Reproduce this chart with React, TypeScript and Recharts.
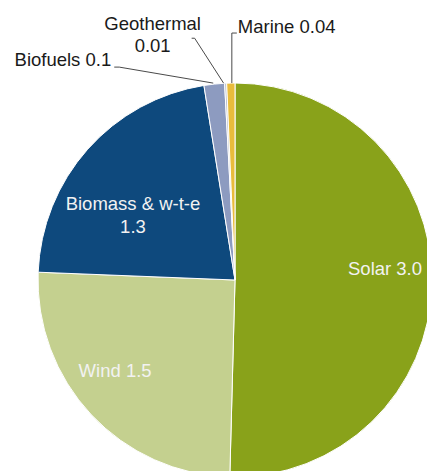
import React from "react";
import { Cell, Pie, PieChart } from "recharts";

const categories = ["Solar", "Wind", "Biomass & w-t-e", "Biofuels", "Geothermal", "Marine"];
const values = [3.0, 1.5, 1.3, 0.1, 0.01, 0.04];
const valueLabels = ["3.0", "1.5", "1.3", "0.1", "0.01", "0.04"];

const colors = ["#89A21A", "#C4D08F", "#0E497D", "#8D9BC0", "#B4BCCB", "#E9BC3C"];

const data = categories.map((name, i) => ({ name, value: values[i] }));

const FONT = "'Liberation Sans', Arial, sans-serif";
const RAD = Math.PI / 180;

// inside labels: radius factor + angle nudge off the slice mid angle
const insidePos = [
  { rf: 0.764, da: 5.3 },
  { rf: 0.761, da: -6.2 },
  { rf: 0.614, da: 9.1 },
];

function renderLabel(props: any) {
  const { cx, cy, midAngle, outerRadius, index } = props;
  const name = categories[index];
  const val = valueLabels[index];

  if (index < 3) {
    const p = insidePos[index];
    const a = (midAngle + p.da) * RAD;
    const r = outerRadius * p.rf;
    const x = cx + r * Math.cos(a);
    const y = cy - r * Math.sin(a);
    const common = { fill: "#F2F2F2", fontSize: 18.5, fontFamily: FONT, textAnchor: "middle" as const };
    if (index === 2) {
      return (
        <g key={`lbl-${index}`}>
          <text x={x} y={y - 5} {...common}>{name}</text>
          <text x={x} y={y + 18} {...common}>{val}</text>
        </g>
      );
    }
    return (
      <text key={`lbl-${index}`} x={x} y={y + 7} {...common}>
        {`${name} ${val}`}
      </text>
    );
  }

  // outside labels with leader lines from the rim
  const a = midAngle * RAD;
  const ex = cx + outerRadius * Math.cos(a);
  const ey = cy - outerRadius * Math.sin(a);
  const line = { stroke: "#4A4A4A", strokeWidth: 1, fill: "none" };
  const txt = { fill: "#1A1A1A", fontSize: 18.5, fontFamily: FONT };

  if (index === 3) {
    return (
      <g key={`lbl-${index}`}>
        <path d={`M${ex - 1},${ey - 1} L${ex - 95},${ey - 17} L${ex - 100},${ey - 17}`} {...line} />
        <text x={ex - 103} y={ey - 18} textAnchor="end" {...txt}>{`${name} ${val}`}</text>
      </g>
    );
  }
  if (index === 4) {
    return (
      <g key={`lbl-${index}`}>
        <path d={`M${ex - 2},${ey} L${ex - 31},${ey - 45} L${ex - 34},${ey - 45}`} {...line} />
        <text x={ex - 73} y={ey - 53} textAnchor="middle" {...txt}>{name}</text>
        <text x={ex - 73} y={ey - 31} textAnchor="middle" {...txt}>{val}</text>
      </g>
    );
  }
  return (
    <g key={`lbl-${index}`}>
      <path d={`M${ex + 1},${ey} L${ex + 1},${ey - 50} L${ex + 6},${ey - 50}`} {...line} />
      <text x={ex + 7} y={ey - 50} textAnchor="start" {...txt}>{`${name} ${val}`}</text>
    </g>
  );
}

export default function App() {
  return (
    <div style={{ position: "absolute", left: 0, top: 0, width: 427, height: 471, background: "#fff" }}>
      <PieChart width={427} height={471} margin={{ top: 0, right: 0, bottom: 0, left: 0 }}>
        <Pie
          data={data}
          dataKey="value"
          nameKey="name"
          cx={235}
          cy={280}
          outerRadius={197}
          startAngle={90}
          endAngle={-270}
          stroke="#FFFFFF"
          strokeWidth={1}
          label={renderLabel}
          labelLine={false}
          isAnimationActive={false}
        >
          {data.map((d, i) => (
            <Cell key={d.name} fill={colors[i]} />
          ))}
        </Pie>
      </PieChart>
    </div>
  );
}
